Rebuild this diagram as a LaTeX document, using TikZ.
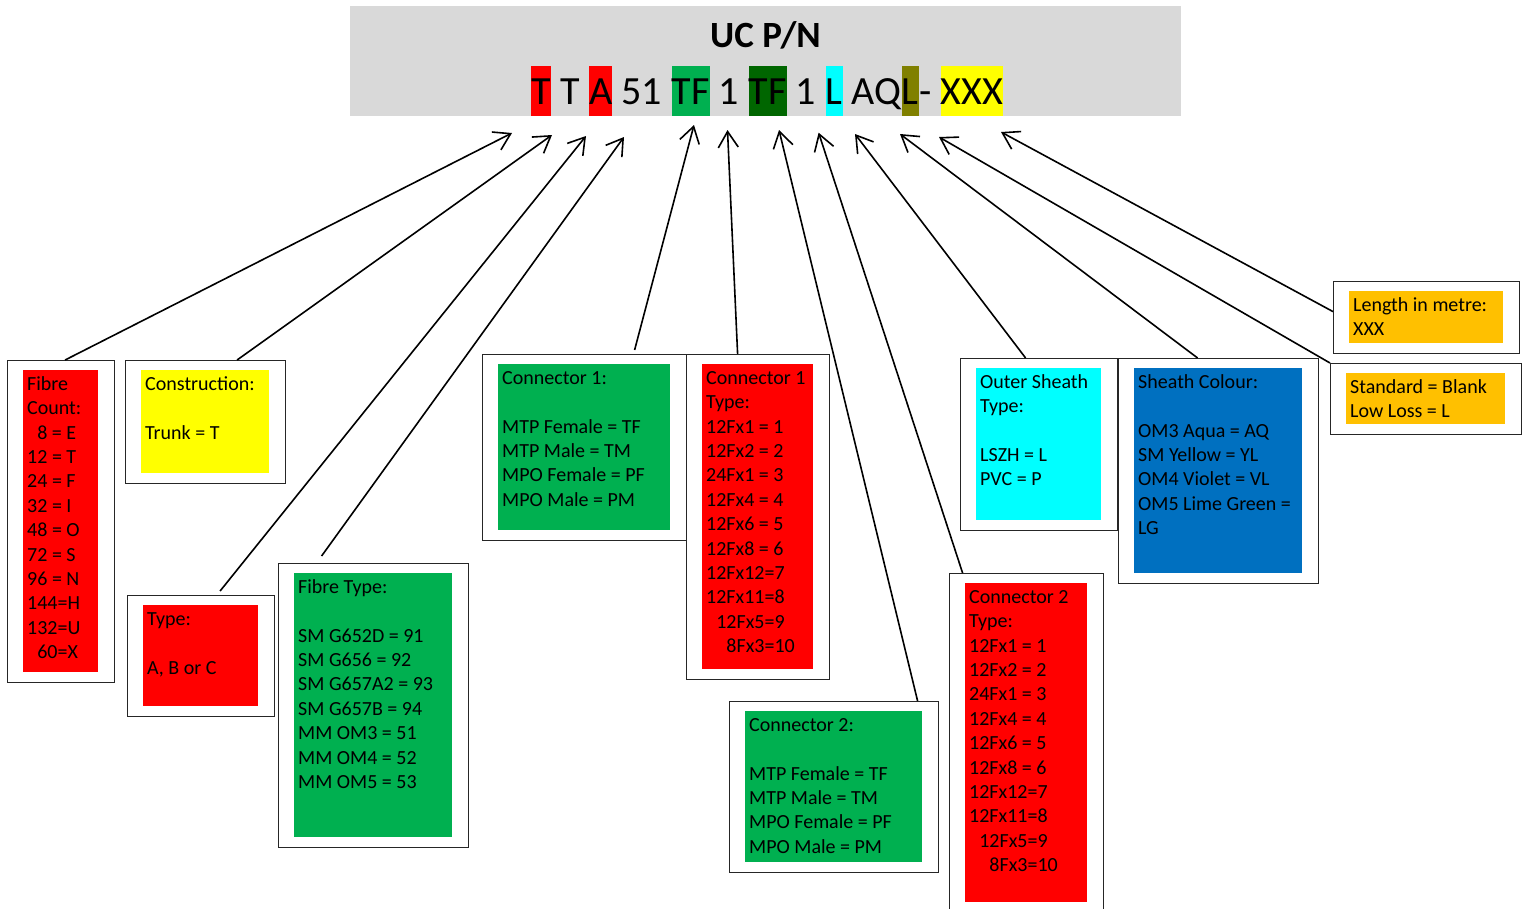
\documentclass[tikz,border=0pt]{standalone}
\usepackage{fontspec}
\setmainfont{Carlito}
\usepackage{tikz}
\usetikzlibrary{positioning}
\usetikzlibrary{arrows.meta}
\definecolor{bandgrey}{HTML}{D9D9D9}
\definecolor{xlgreen}{HTML}{00B050}
\definecolor{xdgreen}{HTML}{006600}
\definecolor{xolive}{HTML}{808000}
\definecolor{xblue}{HTML}{0070C0}
\definecolor{xorange}{HTML}{FFC000}
\definecolor{xcyan}{HTML}{00FFFF}
\definecolor{xred}{HTML}{FF0000}
\definecolor{xyellow}{HTML}{FFFF00}
\newcommand{\infobox}[7]{\node[frame, minimum width={#4-#2+32}, minimum height={#5-#3+20}] (#1) at (#2-16,#3-10) {}; \node[panel, fill=#6, minimum width={#4-#2}, minimum height={#5-#3}] (#1in) at (#2,#3) {}; \node[boxtext] (#1txt) at (#2+4,#3+3) {\strut #7};}
\newcommand{\codepart}[4]{\node[codetext, fill=#3, right=0pt of #2] (#1) {#4\null};}

\begin{document}
\begin{tikzpicture}[x=1pt, y=-1pt,
    frame/.style={draw=black!85, line width=1.2pt, fill=white, inner sep=0pt, anchor=north west},
    panel/.style={inner sep=0pt, anchor=north west},
    boxtext/.style={inner sep=0pt, anchor=north west, align=left, font=\fontsize{20}{24.4}\selectfont},
    codetext/.style={inner sep=0pt, text height=38pt, text depth=12pt, font=\fontsize{40}{48}\selectfont},
    pointer/.style={-{Straight Barb[length=16pt,width=20pt]}, line width=1.6pt}]

        \useasboundingbox (0,0) rectangle (1524,908);

        % header
        \node[fill=bandgrey, inner sep=0pt, minimum width=831, minimum height=110, anchor=north west] (band) at (350,6) {};
        \node[font=\fontsize{37}{44}\selectfont\bfseries, inner sep=0pt, anchor=base] (title) at (765.5,47.7) {UC P/N};

        \node[codetext, fill=xred, anchor=base west] (c1) at (531,104) {T};
        \codepart{c2}{c1}{none}{\ T\ }
        \codepart{c3}{c2}{xred}{A}
        \codepart{c4}{c3}{none}{\ 51\ }
        \codepart{c5}{c4}{xlgreen}{TF}
        \codepart{c6}{c5}{none}{\ 1\ }
        \codepart{c7}{c6}{xdgreen}{TF}
        \codepart{c8}{c7}{none}{\ 1\ }
        \codepart{c9}{c8}{xcyan}{L}
        \codepart{c10}{c9}{none}{\ AQ}
        \codepart{c11}{c10}{xolive}{L}
        \codepart{c12}{c11}{none}{-\ }
        \codepart{c13}{c12}{xyellow}{XXX}

        % left boxes
        \infobox{fc}{23}{370}{98}{672}{xred}{Fibre\\ Count:\\ \hphantom{1}8 = E\\ 12 = T\\ 24 = F\\ 32 = I\\ 48 = O\\ 72 = S\\ 96 = N\\ 144=H\\ 132=U\\ \hphantom{1}60=X}
        \infobox{cons}{141}{370}{269}{473}{xyellow}{Construction:\\[24.4pt] Trunk = T}
        \infobox{typ}{143}{605}{258}{706}{xred}{Type:\\[24.4pt] A, B or C}
        \infobox{ftype}{294}{573}{452}{837}{xlgreen}{Fibre Type:\\[24.4pt] SM G652D = 91\\ SM G656 = 92\\ SM G657A2 = 93\\ SM G657B = 94\\ MM OM3 = 51\\ MM OM4 = 52\\ MM OM5 = 53}

        % middle boxes
        \infobox{conA}{498}{364}{670}{530}{xlgreen}{Connector 1:\\[24.4pt] MTP Female = TF\\ MTP Male = TM\\ MPO Female = PF\\ MPO Male = PM}
        \infobox{conAt}{702}{364}{813}{669}{xred}{Connector 1\\ Type:\\ 12Fx1 = 1\\ 12Fx2 = 2\\ 24Fx1 = 3\\ 12Fx4 = 4\\ 12Fx6 = 5\\ 12Fx8 = 6\\ 12Fx12=7\\ 12Fx11=8\\ \hphantom{1}12Fx5=9\\ \hphantom{11}8Fx3=10}
        \infobox{conB}{745}{711}{922}{862}{xlgreen}{Connector 2:\\[24.4pt] MTP Female = TF\\ MTP Male = TM\\ MPO Female = PF\\ MPO Male = PM}
        \infobox{conBt}{965}{583}{1087}{902}{xred}{Connector 2\\ Type:\\ 12Fx1 = 1\\ 12Fx2 = 2\\ 24Fx1 = 3\\ 12Fx4 = 4\\ 12Fx6 = 5\\ 12Fx8 = 6\\ 12Fx12=7\\ 12Fx11=8\\ \hphantom{1}12Fx5=9\\ \hphantom{11}8Fx3=10}

        % right boxes
        \infobox{osh}{976}{368}{1101}{520}{xcyan}{Outer Sheath\\ Type:\\[24.4pt] LSZH = L\\ PVC = P}
        \infobox{shc}{1134}{368}{1302}{573}{xblue}{Sheath Colour:\\[24.4pt] OM3 Aqua = AQ\\ SM Yellow = YL\\ OM4 Violet = VL\\ OM5 Lime Green =\\ LG}
        \infobox{len}{1349}{291}{1503}{343}{xorange}{Length in metre:\\ XXX}
        \infobox{std}{1346}{373}{1505}{424}{xorange}{Standard = Blank\\ Low Loss = L}

        % pointers
        \coordinate (fcTip) at (512,133);
        \coordinate (consTip) at (552,135);
        \coordinate (typTip) at (586,136);
        \coordinate (ftypeTip) at (624,137);
        \coordinate (conATip) at (694,125);
        \coordinate (conAtTip) at (727.5,130);
        \coordinate (conBTip) at (779,130);
        \coordinate (conBtTip) at (818.6,132.7);
        \coordinate (oshTip) at (855,134);
        \coordinate (shcTip) at (900,134);
        \coordinate (stdTip) at (939,137);
        \coordinate (lenTip) at (1001,132);

        \draw[pointer] ([xshift=4pt]fc.north) -- (fcTip);
        \draw[pointer] ([xshift=31.5pt]cons.north) -- (consTip);
        \draw[pointer] ([xshift=19pt,yshift=4pt]typ.north) -- (typTip);
        \draw[pointer] ([xshift=-52pt,yshift=7pt]ftype.north) -- (ftypeTip);
        \draw[pointer] ([xshift=50pt,yshift=4pt]conA.north) -- (conATip);
        \draw[pointer] ([xshift=-20.5pt]conAt.north) -- (conAtTip);
        \draw[pointer] ([xshift=83.5pt]conB.north) -- (conBTip);
        \draw[pointer] ([xshift=-64pt]conBt.north) -- (conBtTip);
        \draw[pointer] ([xshift=-13.5pt]osh.north) -- (oshTip);
        \draw[pointer] ([xshift=-21pt]shc.north) -- (shcTip);
        \draw[pointer] (std.north west) -- (stdTip);
        \draw[pointer] ([yshift=6pt]len.west) -- (lenTip);

    \end{tikzpicture}
\end{document}
